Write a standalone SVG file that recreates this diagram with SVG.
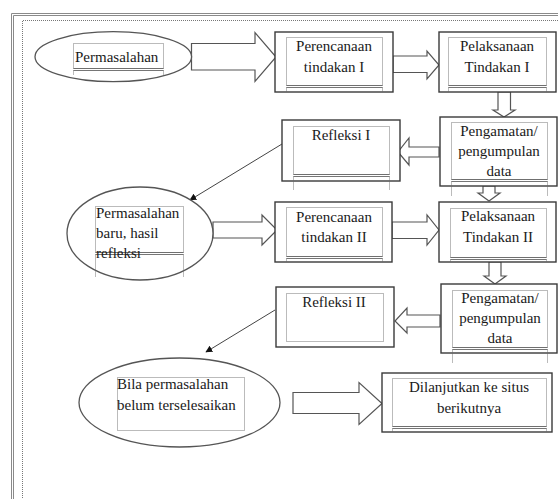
<svg xmlns="http://www.w3.org/2000/svg" width="558" height="499" viewBox="0 0 558 499" font-family="Liberation Serif, Times New Roman, DejaVu Serif, serif">
<style>
.frame{fill:none;stroke:#8a8a8a;stroke-width:1}
.dotf{fill:none;stroke:#777;stroke-width:1;stroke-dasharray:1 1}
.box{fill:#fff;stroke:#3a3a3a;stroke-width:1.4}
.ell{fill:#fff;stroke:#555;stroke-width:1.3}
.tb{fill:none;stroke:#666;stroke-width:0.9;stroke-dasharray:1 1}
.dl{fill:none;stroke:#666;stroke-width:0.9}
.arr{fill:#fff;stroke:#555;stroke-width:1.2;stroke-linejoin:miter}
.ln{fill:none;stroke:#444;stroke-width:1}
text{font-family:'Liberation Serif','Times New Roman','DejaVu Serif',serif;font-size:15px;fill:#1a1a1a}
.c{text-anchor:middle}
</style>
<defs>
<marker id="ah" viewBox="0 0 10 10" refX="9" refY="5" markerWidth="7" markerHeight="7" orient="auto" markerUnits="userSpaceOnUse">
<path d="M0,0 L10,5 L0,10 z" fill="#111"/>
</marker>
</defs>
<g id="frame">
<path class="frame" d="M558,13.5 H11.5 V499"/>
<path class="frame" d="M558,15.5 H13.5 V499"/>
<path class="dotf" d="M558,20.5 H22.5 V499"/>
</g>
<g id="connectors">
<path class="arr" d="M191.5,43.5 H255 V32.5 L276,57 L255,81.5 V70 H191.5 Z"/>
<path class="arr" d="M393,56 H427 V51 L439,65 L427,79 V72.5 H393 Z"/>
<path class="arr" d="M498,92 V110 H493 L504,117 L515,110 H510.5 V92 Z"/>
<path class="arr" d="M439,147 H409 V138 L398,152 L409,165 V157 H439 Z"/>
<path class="ln" d="M282,144 L190,200" marker-end="url(#ah)"/>
<path class="arr" d="M213,222 H262 V215 L277,230 L262,245 V238 H213 Z"/>
<path class="arr" d="M392,222 H427 V215 L439,230 L427,245 V238.5 H392 Z"/>
<path class="arr" d="M483,186 V193 H478 L489,201 L500,193 H495 V186 Z"/>
<path class="arr" d="M489,262 V276 H484 L495,284 L506,276 H501 V262 Z"/>
<path class="arr" d="M440,315 H407 V308 L395,321 L407,333 V327 H440 Z"/>
<path class="ln" d="M275,310 L206,352" marker-end="url(#ah)"/>
<path class="arr" d="M293,392.5 H359 V382.5 L382,403.5 L359,424.5 V413.5 H293 Z"/>
</g>
<g id="n-permasalahan">
<ellipse class="ell" cx="113.3" cy="56.7" rx="78.3" ry="25"/>
<rect class="tb" x="73.5" y="43.5" width="90" height="25"/>
<path class="dl" d="M73.5,68.5 H163.5 M73.5,70.5 H163.5"/>
<path class="tb" d="M73.5,70.5 V75 M163.5,70.5 V75"/>
<text x="75" y="62">Permasalahan</text>
</g>
<g id="n-perencanaan1">
<rect class="box" x="275" y="32" width="118" height="60"/>
<rect class="tb" x="286.5" y="37.5" width="96" height="48"/>
<path class="dl" d="M286.5,85.5 H382.5 M286.5,87.5 H382.5"/>
<path class="tb" d="M286.5,87.5 V92 M382.5,87.5 V92"/>
<text class="c" x="334" y="51">Perencanaan</text>
<text class="c" x="334" y="72">tindakan I</text>
</g>
<g id="n-pelaksanaan1">
<rect class="box" x="439" y="32" width="117" height="60"/>
<rect class="tb" x="448.5" y="37.5" width="98" height="48"/>
<path class="dl" d="M448.5,85.5 H546.5 M448.5,87.5 H546.5"/>
<path class="tb" d="M448.5,87.5 V92 M546.5,87.5 V92"/>
<text class="c" x="497" y="51">Pelaksanaan</text>
<text class="c" x="497" y="72">Tindakan I</text>
</g>
<g id="n-pengamatan1">
<rect class="box" x="440" y="117" width="117" height="69"/>
<rect class="tb" x="451.5" y="122.5" width="96" height="57"/>
<path class="dl" d="M451.5,179.5 H547.5 M451.5,181.5 H547.5"/>
<path class="tb" d="M451.5,181.5 V196 M547.5,181.5 V196"/>
<text class="c" x="499" y="136">Pengamatan/</text>
<text class="c" x="499" y="156">pengumpulan</text>
<text class="c" x="499" y="176">data</text>
</g>
<g id="n-refleksi1">
<rect class="box" x="282" y="120" width="118" height="61"/>
<rect class="tb" x="293.5" y="126.5" width="96" height="48"/>
<path class="dl" d="M293.5,174.5 H389.5 M293.5,176.5 H389.5"/>
<path class="tb" d="M293.5,176.5 V190 M389.5,176.5 V190"/>
<text class="c" x="341" y="140">Refleksi I</text>
</g>
<g id="n-permasalahan-baru">
<ellipse class="ell" cx="140" cy="233.5" rx="73" ry="46.5"/>
<rect class="tb" x="95.5" y="206.5" width="88" height="46"/>
<path class="dl" d="M95.5,252.5 H183.5 M95.5,254.5 H183.5"/>
<path class="tb" d="M95.5,254.5 V277 M183.5,254.5 V277"/>
<text x="96" y="218">Permasalahan</text>
<text x="96" y="238">baru, hasil</text>
<text x="96" y="258">refleksi</text>
</g>
<g id="n-perencanaan2">
<rect class="box" x="275" y="202" width="117" height="60"/>
<rect class="tb" x="286.5" y="207.5" width="96" height="49"/>
<path class="dl" d="M286.5,256.5 H382.5 M286.5,258.5 H382.5"/>
<path class="tb" d="M286.5,258.5 V262 M382.5,258.5 V262"/>
<text class="c" x="334" y="222">Perencanaan</text>
<text class="c" x="334" y="242">tindakan II</text>
</g>
<g id="n-pelaksanaan2">
<rect class="box" x="439" y="202" width="117" height="60"/>
<rect class="tb" x="450.5" y="208.5" width="96" height="49"/>
<path class="dl" d="M450.5,257.5 H546.5 M450.5,259.5 H546.5"/>
<path class="tb" d="M450.5,259.5 V262 M546.5,259.5 V262"/>
<text class="c" x="498" y="221">Pelaksanaan</text>
<text class="c" x="498" y="242">Tindakan II</text>
</g>
<g id="n-pengamatan2">
<rect class="box" x="441" y="284" width="116" height="69"/>
<rect class="tb" x="452.5" y="290.5" width="95" height="57"/>
<path class="dl" d="M452.5,347.5 H547.5 M452.5,349.5 H547.5"/>
<path class="tb" d="M452.5,349.5 V363 M547.5,349.5 V363"/>
<text class="c" x="500" y="303">Pengamatan/</text>
<text class="c" x="500" y="323">pengumpulan</text>
<text class="c" x="500" y="343">data</text>
</g>
<g id="n-refleksi2">
<rect class="box" x="276" y="287" width="118" height="60"/>
<rect class="tb" x="286.5" y="293.5" width="97" height="48"/>
<text class="c" x="334" y="307">Refleksi II</text>
</g>
<g id="n-bila">
<ellipse class="ell" cx="179.5" cy="402.5" rx="100.5" ry="44.5"/>
<rect class="tb" x="117.5" y="377.5" width="127" height="53"/>
<text x="117" y="389">Bila permasalahan</text>
<text x="117" y="410">belum terselesaikan</text>
</g>
<g id="n-dilanjutkan">
<rect class="box" x="382" y="373" width="170" height="59"/>
<rect class="tb" x="392.5" y="378.5" width="154" height="48"/>
<path class="dl" d="M392.5,426.5 H546.5 M392.5,428.5 H546.5"/>
<path class="tb" d="M392.5,428.5 V432 M546.5,428.5 V432"/>
<text class="c" x="469" y="392">Dilanjutkan ke situs</text>
<text class="c" x="469" y="413">berikutnya</text>
</g>
</svg>
